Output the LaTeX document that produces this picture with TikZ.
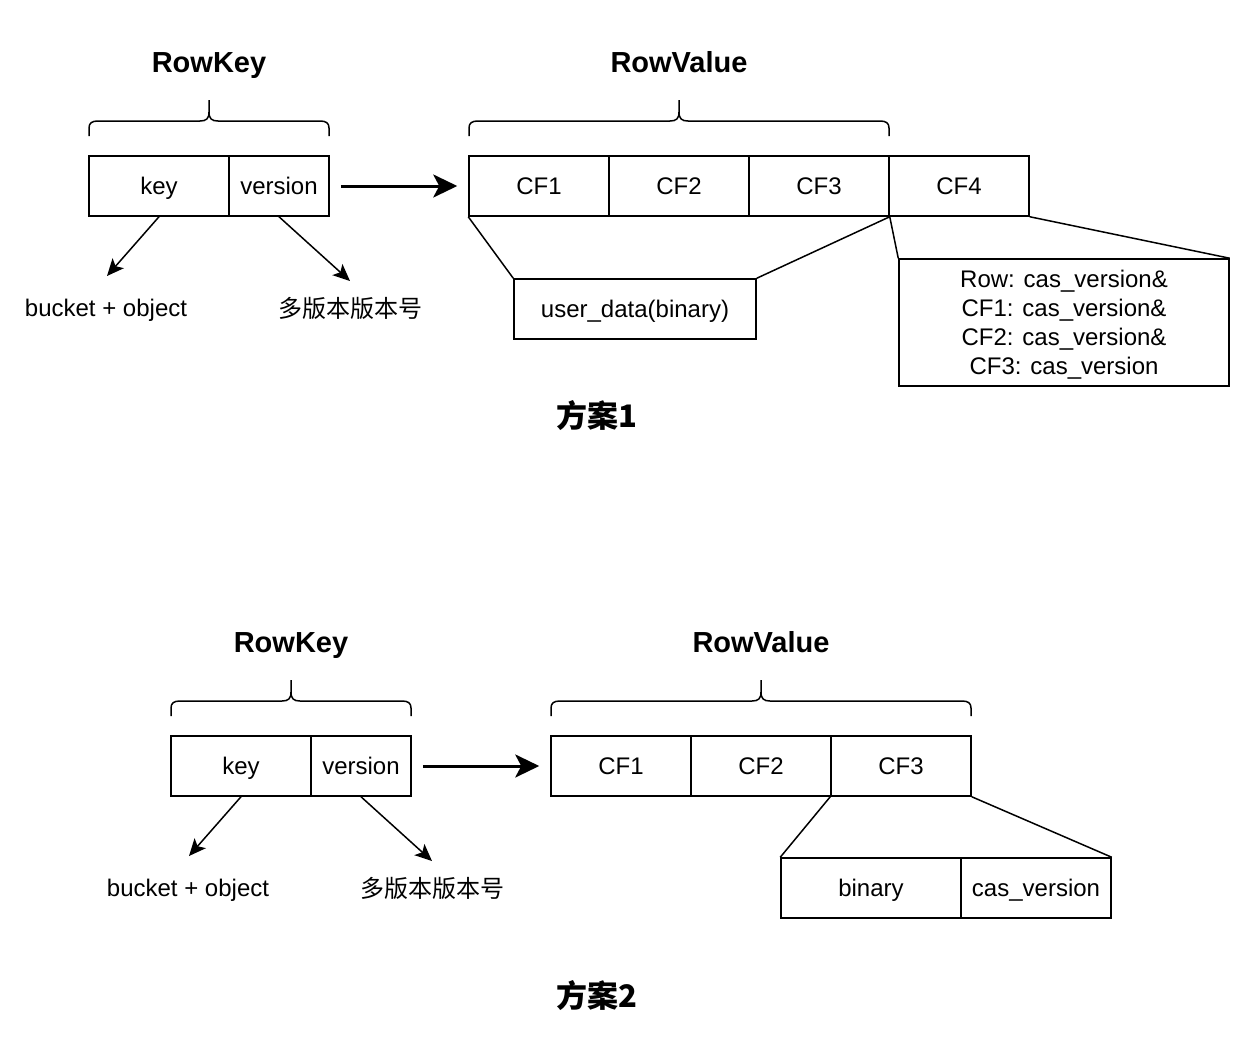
\documentclass[tikz,border=0pt]{standalone}
\usepackage{fontspec}
\setmainfont{Liberation Sans}
\newfontfamily\cjk{Noto Sans CJK SC}
\usetikzlibrary{arrows.meta}
\newcommand\mybrace[3]{%
  \pgfmathsetmacro\xm{(#1+#2)/2}%
  \draw[ln] (#1,#3) -- (#1,#3-8) .. controls (#1,#3-13) and (#1+3,#3-15) .. (#1+9,#3-15)
    -- (\xm-9,#3-15) .. controls (\xm-3,#3-15) and (\xm,#3-17) .. (\xm,#3-24) -- (\xm,#3-36);
  \draw[ln] (\xm,#3-24) .. controls (\xm,#3-17) and (\xm+3,#3-15) .. (\xm+9,#3-15)
    -- (#2-9,#3-15) .. controls (#2-3,#3-15) and (#2,#3-13) .. (#2,#3-8) -- (#2,#3);
}
\begin{document}
\begin{tikzpicture}[x=1pt,y=-1pt,
  ln/.style={line width=1.5pt, line join=round},
  box/.style={draw, line width=1.5pt, inner sep=0pt, minimum height=60pt, text height=19.5pt, text depth=3pt, font=\fontsize{24}{29}\selectfont},
  lbl/.style={inner sep=0pt, text height=19.5pt, text depth=3pt, font=\fontsize{24}{29}\selectfont},
  cjklbl/.style={inner sep=0pt, text height=19pt, text depth=3pt, font=\cjk\fontsize{24}{29}\selectfont},
  ttl/.style={inner sep=0pt, text height=24.5pt, text depth=3pt, font=\bfseries\fontsize{29}{34}\selectfont},
  scheme/.style={inner sep=0pt, text height=26pt, text depth=2pt, font=\cjk\bfseries\fontsize{31}{36}\selectfont},
  thinarrow/.style={line width=1.5pt, -{Stealth[length=17pt,width=15pt,inset=4pt]}},
  bigarrow/.style={line width=3pt, shorten <=11pt, shorten >=11pt, -{Stealth[length=24pt,width=23pt,inset=6pt]}}
]
\useasboundingbox (0,0) rectangle (1248,1044);
\fill[white] (0,0) rectangle (1248,1044);

% ---------- Scheme 1 ----------
\node[ttl] (rk1) at (209,62) {RowKey};
\node[ttl] (rv1) at (679,62) {RowValue};
\mybrace{89}{329}{136}
\mybrace{469}{889}{136}

\node[box, minimum width=140pt] (k1) at (159,186) {key};
\node[box, minimum width=100pt] (v1) at (279,186) {version};
\node[box, minimum width=140pt] (c1a) at (539,186) {CF1};
\node[box, minimum width=140pt] (c1b) at (679,186) {CF2};
\node[box, minimum width=140pt] (c1c) at (819,186) {CF3};
\node[box, minimum width=140pt] (c1d) at (959,186) {CF4};

\node[box, minimum width=242pt] (ud1) at (635,309) {user\_data(binary)};
\node[draw, line width=1.5pt, inner sep=0pt, minimum width=330pt, minimum height=127pt] (cas1) at (1064,322.5) {};
\node[align=center, inner sep=0pt, font=\fontsize{24}{29}\selectfont] (cast1) at (1064,325)
  {Row: cas\_version\&\\CF1: cas\_version\&\\CF2: cas\_version\&\\CF3: cas\_version};

\draw[ln] (c1a.south west) -- (ud1.north west);
\draw[ln] (c1c.south east) -- (ud1.north east);
\draw[ln] (c1c.south east) -- (cas1.north west);
\draw[ln] (c1d.south east) -- (cas1.north east);

\draw[bigarrow] (v1.east) -- (c1a.west);

\coordinate (b1) at (107,276);
\coordinate (m1) at (350,281);
\draw[thinarrow] (k1.south) -- (b1);
\draw[thinarrow] (v1.south) -- (m1);
\node[lbl] (bo1) at (106,308) {bucket + object};
\node[cjklbl] (mv1) at (350,309) {多版本版本号};
\node[scheme] (s1) at (597,415) {方案1};

% ---------- Scheme 2 ----------
\node[ttl] (rk2) at (291,642) {RowKey};
\node[ttl] (rv2) at (761,642) {RowValue};
\mybrace{171}{411}{716}
\mybrace{551}{971}{716}

\node[box, minimum width=140pt] (k2) at (241,766) {key};
\node[box, minimum width=100pt] (v2) at (361,766) {version};
\node[box, minimum width=140pt] (c2a) at (621,766) {CF1};
\node[box, minimum width=140pt] (c2b) at (761,766) {CF2};
\node[box, minimum width=140pt] (c2c) at (901,766) {CF3};

\node[box, minimum width=180pt] (bin2) at (871,888) {binary};
\node[box, minimum width=150pt] (cv2) at (1036,888) {cas\_version};

\draw[ln] (c2c.south west) -- (bin2.north west);
\draw[ln] (c2c.south east) -- (cv2.north east);

\draw[bigarrow] (v2.east) -- (c2a.west);

\coordinate (b2) at (189,856);
\coordinate (m2) at (432,861);
\draw[thinarrow] (k2.south) -- (b2);
\draw[thinarrow] (v2.south) -- (m2);
\node[lbl] (bo2) at (188,888) {bucket + object};
\node[cjklbl] (mv2) at (432,889) {多版本版本号};
\node[scheme] (s2) at (597,995) {方案2};
\end{tikzpicture}
\end{document}
